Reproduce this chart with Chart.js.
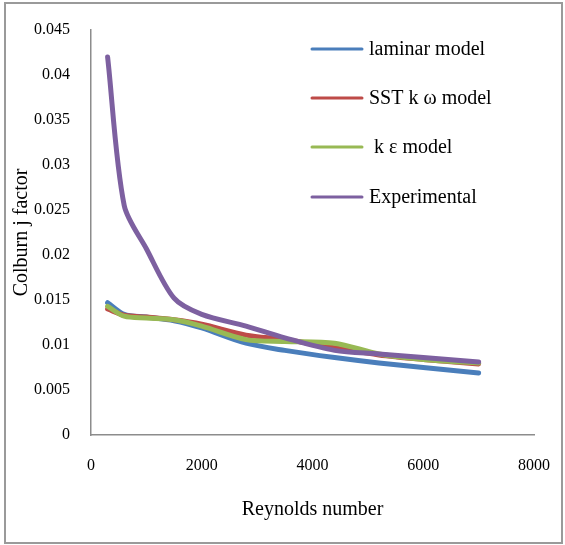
<!DOCTYPE html>
<html>
<head>
<meta charset="utf-8">
<script src="https://cdn.jsdelivr.net/npm/chart.js@4/dist/chart.umd.min.js"></script>
<style>
  html, body { margin: 0; padding: 0; background: #ffffff; }
  #wrap { width: 565px; height: 545px; position: relative; }
</style>
</head>
<body>
<div id="wrap"><canvas id="chart" width="565" height="545"></canvas></div>
<script>
// Reynolds numbers at which the j factor was evaluated
const reynolds = [300, 600, 1000, 1500, 2000, 2800, 3500, 4400, 5200, 6000, 7000];

// Colburn j factor for each model and the experiment
const laminarModel = [0.0147, 0.0134, 0.0131, 0.0127, 0.0119, 0.0102, 0.0094, 0.0086, 0.0080, 0.0075, 0.0069];
const sstKOmega    = [0.0140, 0.0133, 0.0131, 0.0128, 0.0123, 0.0111, 0.0106, 0.0097, 0.0089, 0.0084, 0.0079];
const kEpsilon     = [0.0143, 0.0132, 0.0130, 0.0128, 0.0121, 0.0106, 0.0104, 0.0102, 0.0090, 0.0084, 0.0080];
const experimental = [0.0420, 0.0255, 0.0207, 0.0152, 0.0134, 0.0121, 0.0108, 0.0094, 0.0090, 0.0086, 0.0081];

const seriesNames = ['laminar model', 'SST k \u03c9 model', ' k \u03b5 model', 'Experimental'];

// Axis tick labels
const yTickLabels = ['0', '0.005', '0.01', '0.015', '0.02', '0.025', '0.03', '0.035', '0.04', '0.045'];
const xTickLabels = ['0', '2000', '4000', '6000', '8000'];

const colors = ['#4a7ebb', '#be4b48', '#98b954', '#7d60a0'];
const serif = "'Liberation Serif', 'Times New Roman', serif";
const axisGray = '#8c8c8c';

const toPoints = (ys) => reynolds.map((x, i) => ({ x: x, y: ys[i] }));
const allSeries = [laminarModel, sstKOmega, kEpsilon, experimental];

// Outer frame and legend drawn on the canvas
const framePlugin = {
  id: 'frameAndLegend',
  beforeDraw(chart) {
    const ctx = chart.ctx;
    ctx.save();
    ctx.fillStyle = '#ffffff';
    ctx.fillRect(0, 0, chart.width, chart.height);
    ctx.strokeStyle = '#9a9a9a';
    ctx.lineWidth = 2;
    ctx.strokeRect(5, 3, 557, 540);
    ctx.restore();
  },
  afterDraw(chart) {
    const ctx = chart.ctx;
    ctx.save();
    const rows = [49, 98, 147, 197];
    ctx.font = '20px ' + serif;
    ctx.textBaseline = 'middle';
    ctx.textAlign = 'left';
    seriesNames.forEach((name, i) => {
      ctx.strokeStyle = colors[i];
      ctx.lineWidth = 3;
      ctx.lineCap = 'round';
      ctx.beginPath();
      ctx.moveTo(312, rows[i]);
      ctx.lineTo(362, rows[i]);
      ctx.stroke();
      ctx.fillStyle = '#000000';
      ctx.fillText(name, 369, rows[i] + 1);
    });
    ctx.restore();
  }
};

new Chart(document.getElementById('chart'), {
  type: 'line',
  data: {
    datasets: allSeries.map((ys, i) => ({
      label: seriesNames[i],
      data: toPoints(ys),
      borderColor: colors[i],
      backgroundColor: colors[i],
      borderWidth: 5,
      borderCapStyle: 'round',
      borderJoinStyle: 'round',
      pointRadius: 0,
      tension: 0.3,
      fill: false,
      order: allSeries.length - i
    }))
  },
  options: {
    responsive: false,
    animation: false,
    devicePixelRatio: 1,
    layout: { padding: { left: 0, top: 30, right: 31, bottom: 0 } },
    plugins: {
      legend: { display: false },
      tooltip: { enabled: false }
    },
    scales: {
      x: {
        type: 'linear',
        min: 0,
        max: 8000,
        ticks: {
          stepSize: 2000,
          padding: 21,
          color: '#000000',
          font: { family: serif, size: 16 },
          maxRotation: 0,
          callback: (v, i) => xTickLabels[i]
        },
        grid: { display: false, drawTicks: false },
        border: { display: true, color: axisGray, width: 1.5 },
        title: {
          display: true,
          text: 'Reynolds number',
          color: '#000000',
          font: { family: serif, size: 20 },
          padding: { top: 0, bottom: 23 }
        },
        afterFit(scale) {
          scale.height = 110;
          scale.paddingLeft = 0;
          scale.paddingRight = 0;
        }
      },
      y: {
        type: 'linear',
        min: 0,
        max: 0.045,
        ticks: {
          stepSize: 0.005,
          padding: 21,
          color: '#000000',
          font: { family: serif, size: 16 },
          callback: (v, i) => yTickLabels[i]
        },
        grid: { display: false, drawTicks: false },
        border: { display: true, color: axisGray, width: 1.5 },
        title: {
          display: true,
          text: 'Colburn j factor',
          color: '#000000',
          font: { family: serif, size: 20 },
          padding: { top: 10, bottom: 0 }
        },
        afterFit(scale) {
          scale.width = 91;
          scale.paddingTop = 0;
          scale.paddingBottom = 0;
        }
      }
    }
  },
  plugins: [framePlugin]
});
</script>
</body>
</html>
